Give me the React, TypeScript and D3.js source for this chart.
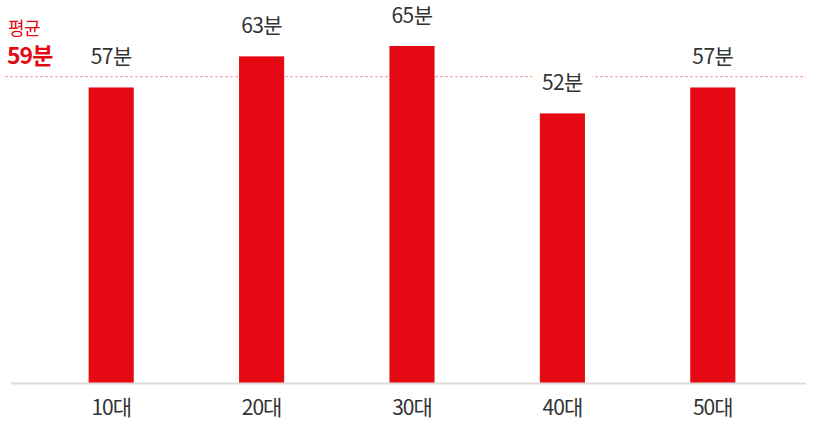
import React from "react";
import * as d3 from "d3";

const categories = ["10대", "20대", "30대", "40대", "50대"];
const values = [57, 63, 65, 52, 57];
const average = 59;
const unit = "분";
const avgLabel = "평균";

const W = 813;
const H = 422;
const RED = "#e50914";
const FONT = "'Noto Sans CJK KR', 'Noto Sans', sans-serif";

export default function App() {
  const baseY = 383;
  const x = d3.scaleBand<string>().domain(categories).range([36, 788]).paddingInner(0.7).paddingOuter(0.35);
  const y = d3.scaleLinear().domain([0, 65]).range([baseY, 46]);
  const avgY = y(average) - 0.5;
  const labelW = 60;
  return (
    <svg width={W} height={H} style={{ position: "absolute", left: 0, top: 0 }} fontFamily={FONT}>
      <line x1={5} x2={806} y1={avgY} y2={avgY} stroke="#f7aab0" strokeWidth={1.3} strokeDasharray="3,2" />
      {categories.map((c, i) => {
        const bx = x(c)!;
        const bw = x.bandwidth();
        const cx = bx + bw / 2;
        const top = y(values[i]);
        return (
          <g key={c}>
            <rect x={bx} y={top} width={bw} height={baseY - top} fill={RED} />
            <rect x={cx - labelW / 2} y={top - 42} width={labelW} height={26} fill="#fff" />
            <text x={cx} y={top - 23} textAnchor="middle" fontSize={21} fill="#333" letterSpacing={-0.6}>
              {values[i]}{unit}
            </text>
            <text x={cx} y={415} textAnchor="middle" fontSize={21} fill="#333" letterSpacing={-1}>
              {c}
            </text>
          </g>
        );
      })}
      <line x1={11} x2={806} y1={baseY + 0.5} y2={baseY + 0.5} stroke="#dcdcdc" strokeWidth={2} />
      <text x={8} y={35} fontSize={18} fill={RED} letterSpacing={-0.5}>{avgLabel}</text>
      <text x={7} y={64} fontSize={23} fontWeight="bold" fill={RED} letterSpacing={-1}>{average}{unit}</text>
    </svg>
  );
}
